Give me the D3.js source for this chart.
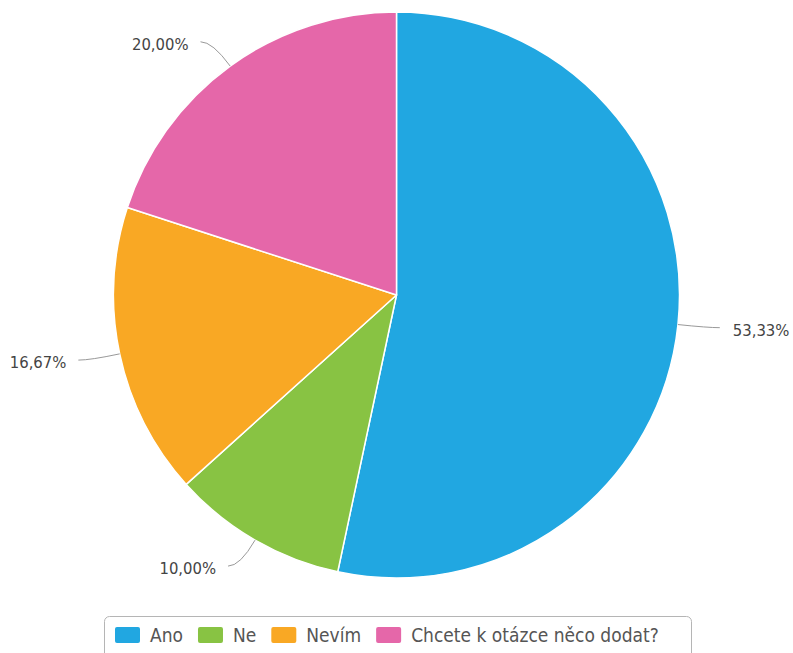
<!DOCTYPE html>
<html>
<head>
<meta charset="utf-8">
<script src="https://cdn.jsdelivr.net/npm/d3@7"></script>
<style>
  html, body { margin: 0; padding: 0; background: #fff; }
  svg { display: block; }
</style>
</head>
<body>
<svg id="chart" width="793" height="653"></svg>
<script>
// Survey answers and their shares (percent)
const categories = ["Ano", "Ne", "Nevím", "Chcete k otázce něco dodat?"];
const values = [53.33, 10.00, 16.67, 20.00];
const colors = ["#21a7e1", "#88c343", "#f9a824", "#e567a9"];

const svg = d3.select("#chart");
const cx = 396.5, cy = 295, R = 283;
const FONT = "'DejaVu Sans Condensed', 'Open Sans', sans-serif";

const fmt = v => d3.format(".2f")(v).replace(".", ",") + "%";

const pie = d3.pie().sort(null).value(d => d.value);
const data = pie(categories.map((c, i) => ({ name: c, value: values[i], color: colors[i] })));
const arc = d3.arc().innerRadius(0).outerRadius(R);

const g = svg.append("g").attr("transform", `translate(${cx},${cy})`);

g.selectAll("path.slice")
  .data(data)
  .join("path")
  .attr("class", "slice")
  .attr("d", arc)
  .attr("fill", d => d.data.color)
  .attr("stroke", "#ffffff")
  .attr("stroke-width", 1.5)
  .attr("stroke-linejoin", "round");

// Outside labels with curved connectors
const polar = (a, r) => [Math.sin(a) * r, -Math.cos(a) * r];
const labels = g.append("g");
data.forEach(d => {
  const a = (d.startAngle + d.endAngle) / 2;
  const right = Math.sin(a) >= 0;
  const p0 = polar(a, R);
  const p1 = polar(a, R + 30);
  const p2 = [p1[0] + (right ? 12 : -12), p1[1]];
  labels.append("path")
    .attr("d", `M${p0[0]},${p0[1]} Q${p1[0]},${p1[1]} ${p2[0]},${p2[1]}`)
    .attr("fill", "none")
    .attr("stroke", "#999")
    .attr("stroke-width", 1);
  labels.append("text")
    .attr("x", p2[0] + (right ? 13 : -12))
    .attr("y", p2[1] + 3.5)
    .attr("text-anchor", right ? "start" : "end")
    .attr("dominant-baseline", "middle")
    .attr("font-family", FONT)
    .attr("font-size", 16.5)
    .attr("fill", "#444")
    .text(fmt(d.data.value));
});

// Legend
const legend = svg.append("g");
legend.append("rect")
  .attr("x", 104.5).attr("y", 616.5)
  .attr("width", 587).attr("height", 50)
  .attr("rx", 5).attr("ry", 5)
  .attr("fill", "#fff")
  .attr("stroke", "#b5b5b5")
  .attr("stroke-width", 1);

let lx = 115;
categories.forEach((c, i) => {
  const item = legend.append("g").attr("transform", `translate(${lx},0)`);
  item.append("rect")
    .attr("x", 0).attr("y", 627)
    .attr("width", 25).attr("height", 16)
    .attr("rx", 2)
    .attr("fill", colors[i]);
  const t = item.append("text")
    .attr("x", 35).attr("y", 642)
    .attr("font-family", FONT)
    .attr("font-size", 19)
    .attr("fill", "#555")
    .text(c);
  const w = t.node().getComputedTextLength();
  lx += 35 + w + 15;
});
</script>
</body>
</html>
